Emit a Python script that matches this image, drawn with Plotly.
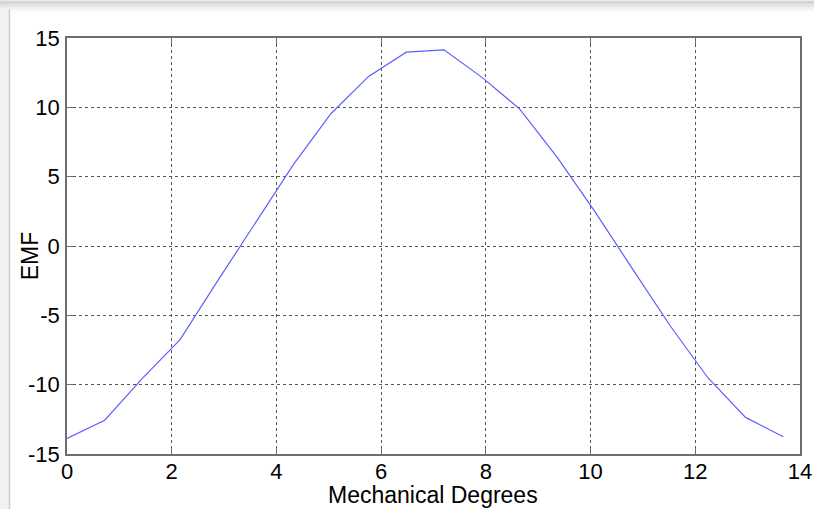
import plotly.graph_objects as go

mech_deg = [0.0, 0.72, 1.44, 2.16, 2.88, 3.60, 4.32, 5.04, 5.76, 6.48,
            7.20, 7.92, 8.64, 9.36, 10.08, 10.80, 11.52, 12.24, 12.96, 13.68]
emf = [-13.88, -12.56, -9.55, -6.75, -2.5, 1.7, 5.85, 9.54, 12.23, 13.98,
       14.15, 12.18, 9.9, 6.41, 2.5, -1.65, -5.75, -9.5, -12.36, -13.76]
x_ticks = [0, 2, 4, 6, 8, 10, 12, 14]
y_ticks = [-15, -10, -5, 0, 5, 10, 15]

W, H = 814, 509
L, R, T, B = 67, 14, 37.5, 55
pw, ph = W - L - R, H - T - B

def px(x):
    return (x - L) / pw

def py(y):
    return (H - B - y) / ph

FONT = "Liberation Sans, Arial, sans-serif"

fig = go.Figure()
fig.add_trace(go.Scatter(x=mech_deg, y=emf, mode="lines",
                         line=dict(color="rgb(95,95,255)", width=1.2),
                         showlegend=False, hoverinfo="skip"))

axis_common = dict(
    showline=True, linecolor="#6e6e6e", linewidth=1.5, mirror="allticks",
    ticks="inside", ticklen=6, tickcolor="#6e6e6e", tickwidth=1.2,
    showgrid=True, gridcolor="#555555", griddash="dot", gridwidth=1,
    zeroline=False, automargin=False,
    tickfont=dict(family=FONT, size=22, color="black"),
)

fig.update_xaxes(range=[0, 14], tickvals=x_ticks, ticktext=[str(v) for v in x_ticks],
                 ticklabelstandoff=-3, **axis_common)
fig.update_yaxes(range=[-15, 15], tickvals=y_ticks, ticktext=[str(v) for v in y_ticks],
                 ticklabelstandoff=1, **axis_common)

shapes = [
    dict(type="rect", xref="paper", yref="paper", x0=px(0), x1=px(9), y0=py(H), y1=py(0),
         fillcolor="#f1f1f1", line_width=0, layer="below"),
    dict(type="line", xref="paper", yref="paper", x0=px(9.5), x1=px(9.5), y0=py(H), y1=py(9),
         line=dict(color="#cfcfcf", width=1.5)),
    dict(type="rect", xref="paper", yref="paper", x0=px(0), x1=px(W), y0=py(4), y1=py(0),
         fillcolor="#d6d6d6", line_width=0, layer="below"),
    dict(type="rect", xref="paper", yref="paper", x0=px(0), x1=px(W), y0=py(7), y1=py(4),
         fillcolor="#e4e4e4", line_width=0, layer="below"),
    dict(type="rect", xref="paper", yref="paper", x0=px(0), x1=px(W), y0=py(10), y1=py(7),
         fillcolor="#f2f2f2", line_width=0, layer="below"),
]

fig.update_layout(
    width=W, height=H,
    margin=dict(l=L, r=R, t=T, b=B, pad=0, autoexpand=False),
    paper_bgcolor="white", plot_bgcolor="white",
    shapes=shapes,
    annotations=[
        dict(text="EMF", xref="paper", yref="paper", x=px(30), y=py(256),
             xanchor="center", yanchor="middle",
             showarrow=False, textangle=-90,
             font=dict(family=FONT, size=23, color="black")),
        dict(text="Mechanical Degrees", xref="paper", yref="paper",
             x=px(433), y=py(495), xanchor="center", yanchor="middle",
             showarrow=False,
             font=dict(family=FONT, size=23, color="black")),
    ],
)

fig.write_html("out.html")
